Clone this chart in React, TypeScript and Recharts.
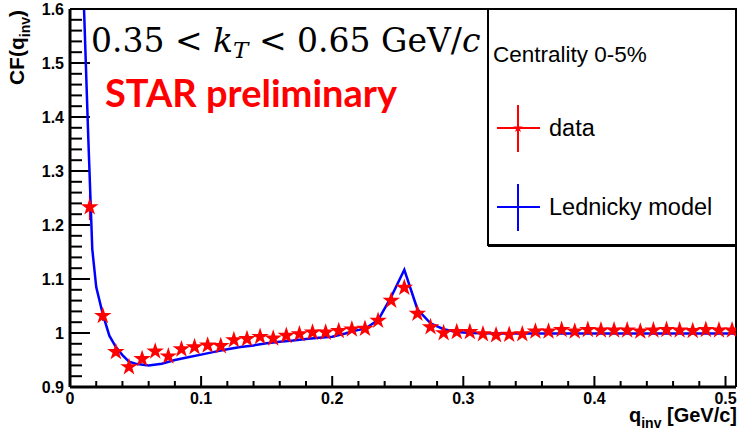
import { ComposedChart, Line, Scatter, XAxis, YAxis, ZAxis, ErrorBar, ReferenceLine, Symbols } from 'recharts'

// measured correlation function, bin centres in GeV/c
const qBins = [
  0.015, 0.025, 0.035, 0.045, 0.055, 0.065, 0.075, 0.085, 0.095, 0.105,
  0.115, 0.125, 0.135, 0.145, 0.155, 0.165, 0.175, 0.185, 0.195, 0.205,
  0.215, 0.225, 0.235, 0.245, 0.255, 0.265, 0.275, 0.285, 0.295, 0.305,
  0.315, 0.325, 0.335, 0.345, 0.355, 0.365, 0.375, 0.385, 0.395, 0.405,
  0.415, 0.425, 0.435, 0.445, 0.455, 0.465, 0.475, 0.485, 0.495, 0.505,
]
const cfData = [
  1.233, 1.032, 0.965, 0.937, 0.952, 0.966, 0.957, 0.97, 0.974, 0.977,
  0.976, 0.987, 0.989, 0.993, 0.99, 0.995, 0.998, 1.001, 1.001, 1.004,
  1.007, 1.008, 1.023, 1.06, 1.084, 1.036, 1.011, 1.0, 1.002, 1.002,
  0.998, 0.996, 0.997, 0.998, 1.003, 1.003, 1.006, 1.003, 1.006, 1.005,
  1.005, 1.005, 1.003, 1.005, 1.006, 1.005, 1.004, 1.006, 1.005, 1.005,
]
const cfErr = [
  0.024, 0.01, 0.006, 0.005, 0.004, 0.004, 0.004, 0.003, 0.003, 0.003,
  0.003, 0.003, 0.003, 0.003, 0.003, 0.003, 0.003, 0.003, 0.003, 0.003,
  0.003, 0.003, 0.003, 0.003, 0.003, 0.003, 0.003, 0.003, 0.003, 0.003,
  0.003, 0.003, 0.003, 0.003, 0.003, 0.003, 0.003, 0.003, 0.003, 0.003,
  0.003, 0.003, 0.003, 0.003, 0.003, 0.003, 0.003, 0.003, 0.003, 0.003,
]

// Lednicky model curve
const modelQ = [
  0.0095, 0.0107, 0.014, 0.017, 0.02, 0.025, 0.03, 0.035, 0.04, 0.045,
  0.05, 0.06, 0.07, 0.08, 0.09, 0.1, 0.11, 0.12, 0.13, 0.14,
  0.15, 0.16, 0.17, 0.18, 0.19, 0.2, 0.21, 0.215, 0.225, 0.235,
  0.245, 0.255, 0.265, 0.275, 0.285, 0.295, 0.305, 0.325, 0.35, 0.4,
  0.45, 0.5, 0.508,
]
const modelCF = [
  1.66, 1.6, 1.358, 1.155, 1.085, 1.035, 0.995, 0.974, 0.959, 0.947,
  0.943, 0.94, 0.943, 0.95, 0.955, 0.96, 0.965, 0.97, 0.974, 0.977,
  0.981, 0.984, 0.986, 0.989, 0.991, 0.993, 0.999, 1.003, 1.008, 1.024,
  1.067, 1.117, 1.044, 1.018, 1.007, 1.002, 1.0, 0.999, 0.999, 0.999,
  0.999, 0.999, 0.999,
]

// axis ticks: labelled majors and the minor marks in between
const xMajor = [0, 0.1, 0.2, 0.3, 0.4, 0.5]
const xLabels = ['0', '0.1', '0.2', '0.3', '0.4', '0.5']
const xMinor = [0.02, 0.04, 0.06, 0.08, 0.12, 0.14, 0.16, 0.18, 0.22, 0.24, 0.26, 0.28, 0.32, 0.34, 0.36, 0.38, 0.42, 0.44, 0.46, 0.48]
const yMajor = [0.9, 1.0, 1.1, 1.2, 1.3, 1.4, 1.5, 1.6]
const yLabels = ['0.9', '1', '1.1', '1.2', '1.3', '1.4', '1.5', '1.6']
const yMinor = [
  0.92, 0.94, 0.96, 0.98, 1.02, 1.04, 1.06, 1.08, 1.12, 1.14, 1.16, 1.18, 1.22, 1.24, 1.26, 1.28,
  1.32, 1.34, 1.36, 1.38, 1.42, 1.44, 1.46, 1.48, 1.52, 1.54, 1.56, 1.58,
]

const X_MIN = 0
const X_MAX = 0.508
const Y_MIN = 0.9
const Y_MAX = 1.6
const LABEL_FONT = '"Liberation Sans", Arial, Helvetica, sans-serif'

// chart geometry; the frame box follows from margins + axis sizes
const W = 739
const H = 431
const M_TOP = 5
const M_RIGHT = 1
const M_BOTTOM = 14
const M_LEFT = 10
const AX_BOTTOM = 30
const AX_TOP = 4
const AX_LEFT = 60
const AX_RIGHT = 2
const FRAME_W = W - M_LEFT - M_RIGHT - AX_LEFT - AX_RIGHT
const FRAME_H = H - M_TOP - M_BOTTOM - AX_TOP - AX_BOTTOM

// tick lengths are given in pixels, converted to data units for the segments
const xPerPx = (X_MAX - X_MIN) / FRAME_W
const yPerPx = (Y_MAX - Y_MIN) / FRAME_H

const points = qBins.map((q, i) => ({ q, cf: cfData[i], err: cfErr[i] }))
const model = modelQ.map((q, i) => ({ q, cf: modelCF[i] }))

const xTickMarks = xMajor.map((v) => ({ v, len: 11 })).concat(xMinor.map((v) => ({ v, len: 6 })))
const yTickMarks = yMajor.map((v) => ({ v, len: 20 })).concat(yMinor.map((v) => ({ v, len: 12 })))

function XTickLabel({ x, y, payload }: any) {
  const idx = xMajor.indexOf(payload.value)
  return (
    <text x={x} y={y + 17} textAnchor="middle" fontFamily={LABEL_FONT} fontWeight="bold" fontSize={16} fill="#000">
      {idx >= 0 ? xLabels[idx] : ''}
    </text>
  )
}

function YTickLabel({ x, y, payload }: any) {
  const idx = yMajor.indexOf(payload.value)
  return (
    <text x={x - 6} y={y + 6} textAnchor="end" fontFamily={LABEL_FONT} fontWeight="bold" fontSize={16} fill="#000">
      {idx >= 0 ? yLabels[idx] : ''}
    </text>
  )
}

const legendItems = [
  { label: 'data', color: '#ff0000', star: true },
  { label: 'Lednicky model', color: '#0000ff', star: false },
]

function LegendBox() {
  return (
    <svg width={252} height={242} style={{ position: 'absolute', left: 486, top: 7 }}>
      <rect x={2} y={2} width={248} height={236} fill="#fff" stroke="#000" strokeWidth={2} />
      <line x1={2} x2={251} y1={239} y2={239} stroke="#000" strokeWidth={2} />
      <text x={7} y={55} fontFamily={LABEL_FONT} fontSize={22.5} fill="#000">
        Centrality 0-5%
      </text>
      {legendItems.map((it, i) => {
        const cy = 121 + i * 79
        return (
          <g key={it.label}>
            <line x1={11} x2={54} y1={cy} y2={cy} stroke={it.color} strokeWidth={2} />
            <line x1={32} x2={32} y1={cy - 23} y2={cy + 24} stroke={it.color} strokeWidth={2} />
            {it.star && <Symbols cx={32} cy={cy} type="star" size={28} fill={it.color} />}
            <text x={63} y={cy + 8} fontFamily={LABEL_FONT} fontSize={23.5} fill="#000">
              {it.label}
            </text>
          </g>
        )
      })}
    </svg>
  )
}

function Annotations() {
  return (
    <svg width={W} height={H} style={{ position: 'absolute', left: 0, top: 0, pointerEvents: 'none' }}>
      <text x={91} y={52} fontFamily='"DejaVu Serif", serif' fontSize={33} fill="#000">
        0.35 &lt; <tspan fontStyle="italic">k</tspan>
        <tspan fontStyle="italic" fontSize={23} dy={6}>T</tspan>
        <tspan dy={-6}> &lt; 0.65 GeV/</tspan>
        <tspan fontStyle="italic">c</tspan>
      </text>
      <text x={105} y={107} fontFamily="Lato, sans-serif" fontWeight={700} fontSize={38} fill="#ff0000">
        STAR preliminary
      </text>
      <text transform="translate(24,10) rotate(-90)" textAnchor="end" fontFamily={LABEL_FONT} fontWeight="bold" fontSize={21} fill="#000">
        CF(q<tspan fontSize={14} dy={6}>inv</tspan>
        <tspan dy={-6}>)</tspan>
      </text>
      <text x={737} y={422} textAnchor="end" fontFamily={LABEL_FONT} fontWeight="bold" fontSize={20} fill="#000">
        q<tspan fontSize={14} dy={6}>inv</tspan>
        <tspan dy={-6}> [GeV/c]</tspan>
      </text>
    </svg>
  )
}

export default function App() {
  return (
    <div style={{ position: 'absolute', left: 0, top: 0, width: W, height: H, background: '#fff' }}>
      <ComposedChart width={W} height={H} margin={{ top: M_TOP, right: M_RIGHT, bottom: M_BOTTOM, left: M_LEFT }}>
        <ZAxis range={[95, 95]} />
        <XAxis
          dataKey="q"
          type="number"
          domain={[X_MIN, X_MAX]}
          allowDataOverflow
          ticks={xMajor}
          interval={0}
          height={AX_BOTTOM}
          tickSize={0}
          tickMargin={0}
          tick={(p: any) => <XTickLabel {...p} />}
          tickLine={false}
          axisLine={{ stroke: '#000', strokeWidth: 3 }}
        />
        <XAxis
          xAxisId="top"
          orientation="top"
          type="number"
          domain={[X_MIN, X_MAX]}
          allowDataOverflow
          height={AX_TOP}
          tick={false}
          tickLine={false}
          axisLine={{ stroke: '#000', strokeWidth: 2 }}
        />
        <YAxis
          dataKey="cf"
          type="number"
          domain={[Y_MIN, Y_MAX]}
          allowDataOverflow
          ticks={yMajor}
          interval={0}
          width={AX_LEFT}
          tickSize={0}
          tickMargin={0}
          tick={(p: any) => <YTickLabel {...p} />}
          tickLine={false}
          axisLine={{ stroke: '#000', strokeWidth: 3 }}
        />
        <YAxis
          yAxisId="right"
          orientation="right"
          type="number"
          domain={[Y_MIN, Y_MAX]}
          allowDataOverflow
          width={AX_RIGHT}
          tick={false}
          tickLine={false}
          axisLine={{ stroke: '#000', strokeWidth: 2 }}
        />
        {/* inward tick marks along the bottom and left of the frame */}
        {xTickMarks.map((t, i) => (
          <ReferenceLine
            key={'xt' + i}
            segment={[
              { x: t.v, y: Y_MIN },
              { x: t.v, y: Y_MIN + t.len * yPerPx },
            ]}
            stroke="#000"
            strokeWidth={2}
            ifOverflow="visible"
          />
        ))}
        {yTickMarks.map((t, i) => (
          <ReferenceLine
            key={'yt' + i}
            segment={[
              { x: X_MIN, y: t.v },
              { x: X_MIN + t.len * xPerPx, y: t.v },
            ]}
            stroke="#000"
            strokeWidth={2}
            ifOverflow="visible"
          />
        ))}
        <Scatter data={points} fill="#ff0000" shape="star" isAnimationActive={false}>
          <ErrorBar dataKey="err" direction="y" width={0} stroke="#ff0000" strokeWidth={1.5} />
        </Scatter>
        <Line data={model} dataKey="cf" type="linear" stroke="#0000ff" strokeWidth={2.5} dot={false} isAnimationActive={false} />
      </ComposedChart>
      <Annotations />
      <LegendBox />
    </div>
  )
}
